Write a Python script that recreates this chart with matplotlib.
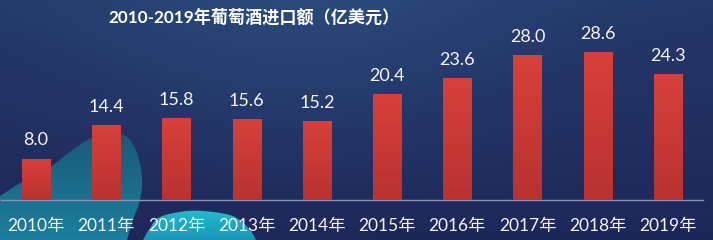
import numpy as np
import matplotlib
matplotlib.use('Agg')
import matplotlib.pyplot as plt
from matplotlib.colors import to_rgb
from matplotlib.patches import Polygon

# ---- data ----
years = ['2010年', '2011年', '2012年', '2013年', '2014年',
         '2015年', '2016年', '2017年', '2018年', '2019年']
values = [8.0, 14.4, 15.8, 15.6, 15.2, 20.4, 23.6, 28.0, 28.6, 24.3]
title = '2010-2019年葡萄酒进口额（亿美元）'

FONT = ['Lato', 'Noto Sans CJK SC', 'DejaVu Sans']
W, H = 713, 240
fig = plt.figure(figsize=(W / 100, H / 100), dpi=100)

# ---- background ----
bg = fig.add_axes([0, 0, 1, 1], zorder=0)
bg.set_axis_off()
xs = np.linspace(0, 1, W)
ys = np.linspace(0, 1, H)
X, Y = np.meshgrid(xs, ys)


def c(h):
    return np.array(to_rgb(h))


left, mid, right, bottom = c('#233868'), c('#2a4a7b'), c('#24386a'), c('#1e2658')
wmid = np.exp(-((X - 0.42) / 0.33) ** 2)[..., None]
top = (left * (1 - X[..., None]) + right * X[..., None]) * (1 - wmid) + mid * wmid
T = (Y ** 1.0)[..., None]
img = top * (1 - T) + bottom * T
bg.imshow(img, extent=[0, W, H, 0], aspect='auto', zorder=0)


def smooth(pts, n=20):
    pts = np.array(pts, dtype=float)
    out = []
    m = len(pts)
    for i in range(m - 1):
        p0 = pts[max(i - 1, 0)]
        p1 = pts[i]
        p2 = pts[i + 1]
        p3 = pts[min(i + 2, m - 1)]
        for t in np.linspace(0, 1, n, endpoint=False):
            t2, t3 = t * t, t * t * t
            out.append(0.5 * ((2 * p1) + (-p0 + p2) * t + (2 * p0 - 5 * p1 + 4 * p2 - p3) * t2
                              + (-p0 + 3 * p1 - 3 * p2 + p3) * t3))
    out.append(pts[-1])
    return np.array(out)


blob1 = smooth([(0, 196), (22, 182), (50, 167), (75, 148), (93, 137), (110, 132), (127, 137),
                (137, 153), (142, 177), (140, 200), (133, 220), (127, 240)])
blob1 = np.vstack([blob1, [(0, 240)]])
blob2 = smooth([(143, 240), (150, 228), (160, 217), (187, 211), (213, 212), (235, 217),
                (250, 230), (256, 240)])


def grad_fill(ax, pts, c_top, c_bot, y0, y1):
    poly = Polygon(pts, closed=True, facecolor='none', edgecolor='none', transform=ax.transData)
    ax.add_patch(poly)
    gy = np.clip((Y * H - y0) / (y1 - y0), 0, 1)[..., None]
    g = c(c_top) * (1 - gy) + c(c_bot) * gy
    im = ax.imshow(g, extent=[0, W, H, 0], aspect='auto', zorder=1)
    im.set_clip_path(poly)


grad_fill(bg, blob1, '#1a5878', '#1c7f9c', 130, 240)
grad_fill(bg, blob2, '#22bccf', '#1a96b4', 210, 240)
bg.set_xlim(0, W)
bg.set_ylim(H, 0)

# ---- chart ----
ax = fig.add_axes([1 / W, 40 / H, 702 / W, 160 / H], zorder=2)
ax.patch.set_alpha(0)
xpos = np.arange(len(values))
bars = ax.bar(xpos, values, width=0.4, color='#cc3a36', zorder=2)
grad = np.linspace(0, 1, 100)[:, None]
bar_img = c('#d8403b') * (1 - grad[..., None]) + c('#b93230') * grad[..., None]
for b in bars:
    x0, w, h = b.get_x(), b.get_width(), b.get_height()
    im = ax.imshow(bar_img, extent=[x0, x0 + w, 0, h], aspect='auto', zorder=3)
    im.set_clip_path(b)

ax.set_xlim(-0.5, len(values) - 0.5)
ax.set_ylim(0, 30.9)
for s in ['top', 'left', 'right']:
    ax.spines[s].set_visible(False)
ax.spines['bottom'].set_color('#8c92b8')
ax.spines['bottom'].set_linewidth(1)
ax.set_yticks([])
ax.set_xticks(xpos, years)
ax.tick_params(axis='x', length=0, pad=13, labelsize=12.5, labelcolor='#f4f4fa')
for lbl in ax.get_xticklabels():
    lbl.set_fontfamily(FONT)

for x, v in zip(xpos, values):
    ax.annotate(f'{v:.1f}', (x, v), xytext=(0, 9.5), textcoords='offset points',
                ha='center', va='baseline', fontsize=13, color='#f4f4fa', family=FONT)

fig.text(254 / W, 1 - 17 / H, title, ha='center', va='center', fontsize=12.3,
         fontweight='bold', color='white', family=FONT)

fig.savefig('out.png', dpi=100)
